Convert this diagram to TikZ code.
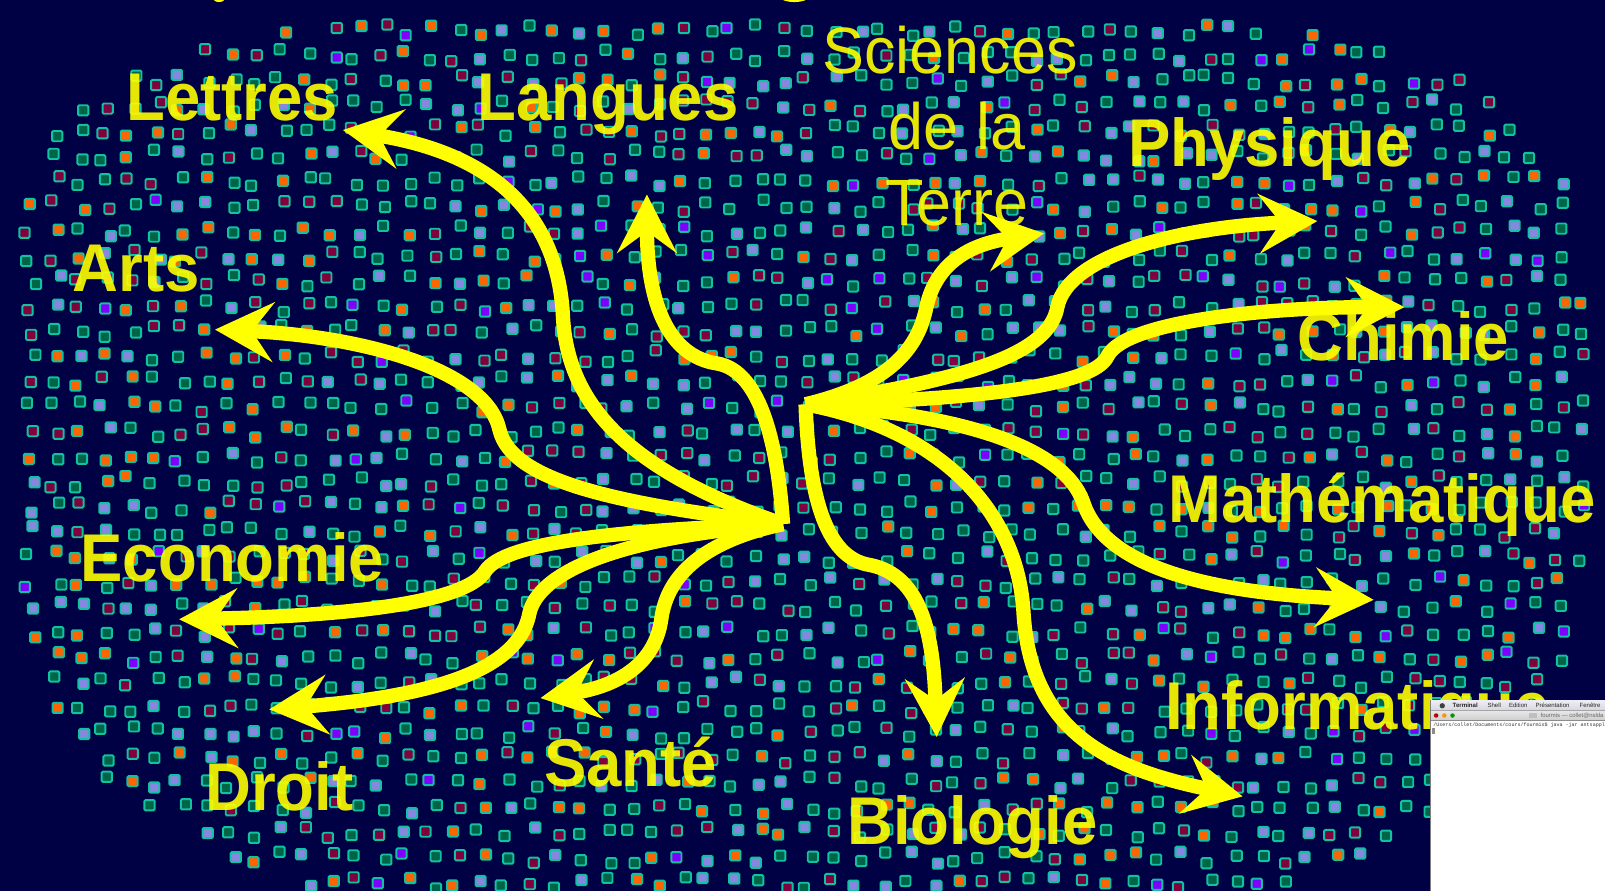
\documentclass[tikz,border=0pt]{standalone}
\usepackage{fontspec}
\setmainfont{Liberation Sans}
\newfontfamily\termmono{Liberation Mono}
\usepackage{graphicx}
\usetikzlibrary{arrows.meta}
\definecolor{bgnavy}{RGB}{0,0,68}
\definecolor{sqb}{RGB}{15,195,160}
\definecolor{sqg}{RGB}{0,100,72}
\definecolor{sqm}{RGB}{128,0,64}
\definecolor{sql}{RGB}{135,135,225}
\definecolor{sqo}{RGB}{255,100,0}
\definecolor{sqp}{RGB}{128,0,255}
\definecolor{yel}{RGB}{255,255,0}
\definecolor{menuA}{RGB}{238,238,244}
\definecolor{menuB}{RGB}{214,214,224}
\definecolor{tbarA}{RGB}{232,232,232}
\definecolor{tbarB}{RGB}{205,205,205}
\begin{document}
\begin{tikzpicture}[x=1pt,y=-1pt,
  sq/.style={draw=sqb, line width=1.9pt, rounded corners=1.2pt},
  lab/.style={text=yel, font=\fontsize{66}{70}\selectfont\bfseries, anchor=base, inner sep=0pt, text opacity=0.9},
  labr/.style={text=yel, font=\fontsize{64}{70}\selectfont, anchor=base, inner sep=0pt, text opacity=0.9},
  arr/.style={draw=yel, line width=14pt, line join=round, -{Stealth[length=57pt,width=58pt,inset=21pt]}},
  menut/.style={anchor=base west, inner sep=0pt, text=black!85, font=\fontsize{5.9}{7}\selectfont},
]
\useasboundingbox (0,0) rectangle (1568,870);
\fill[bgnavy] (0,0) rectangle (1568,870);

% cut-off title descenders at the top edge
\fill[yel] (214,-2) ellipse [x radius=6, y radius=4];
\fill[yel] (776,-3) ellipse [x radius=14, y radius=5];

% cloud of squares
\pgfmathsetseed{7}
\foreach \i in {0,...,64}{
  \foreach \j in {0,...,36}{
    \pgfmathsetmacro\sqx{\i*24.5+6*rand}
    \pgfmathsetmacro\sqy{\j*24.5+6*rand}
    \pgfmathsetmacro\sqdx{abs(\sqx-775)/770+0.0001}
    \pgfmathsetmacro\sqdy{abs(\sqy-440)+0.01}
    \pgfmathsetmacro\sqv{\sqy<440 ? \sqdx^4.5+(\sqdy/428)^4.5 : \sqdx^3+(\sqdy/460)^3}
    \pgfmathtruncatemacro\sqc{random(1,100)}
    \ifdim\sqv pt<1pt
      \ifnum\sqc<42 \def\sqcol{sqg}\else\ifnum\sqc<62 \def\sqcol{sqm}\else\ifnum\sqc<80 \def\sqcol{sql}\else\ifnum\sqc<96 \def\sqcol{sqo}\else\def\sqcol{sqp}\fi\fi\fi\fi
      \draw[sq, fill=\sqcol] (\sqx,\sqy) rectangle +(10,10);
    \fi
  }
}

% labels
\node[lab] (lettres) at (227,118) {\scalebox{0.94}[1]{Lettres}};
\node[lab] (langues) at (594,118) {\scalebox{0.94}[1]{Langues}};
\node[lab] (arts) at (133,285) {\scalebox{0.94}[1]{Arts}};
\node[lab] (physique) at (1240,163) {\scalebox{0.94}[1]{Physique}};
\node[lab] (chimie) at (1371,352) {\scalebox{0.94}[1]{Chimie}};
\node[lab] (maths) at (1350,510) {\scalebox{0.94}[1]{Mathématique}};
\node[lab] (economie) at (227,568) {\scalebox{0.94}[1]{Economie}};
\node[lab, anchor=base west] (info) at (1138,713) {\scalebox{0.94}[1]{Informatique}};
\node[lab] (droit) at (273,792) {\scalebox{0.94}[1]{Droit}};
\node[lab] (sante) at (616,768) {\scalebox{0.94}[1]{Santé}};
\node[lab] (bio) at (950,825) {\scalebox{0.94}[1]{Biologie}};
\node[labr] (sci1) at (928,72) {\scalebox{0.96}[1]{Sciences}};
\node[labr] (sci2) at (935,146) {\scalebox{0.96}[1]{de la}};
\node[labr] (sci3) at (935,220) {\scalebox{0.96}[1]{Terre}};

% hubs and tips
\coordinate (hubL) at (765,512);
\coordinate (hubR) at (787,395);
\coordinate (tLet) at (335,127);
\coordinate (tArts) at (210,322);
\coordinate (tLang) at (632,190);
\coordinate (tEco) at (175,605);
\coordinate (tDroit) at (263,693);
\coordinate (tSante) at (528,682);
\coordinate (tSci) at (1020,228);
\coordinate (tPhy) at (1287,216);
\coordinate (tChi) at (1372,300);
\coordinate (tMath) at (1342,586);
\coordinate (tInfo) at (1214,778);
\coordinate (tBio) at (915,720);

\draw[arr] (hubL) .. controls (620,462) and (555,400) .. (550,310) .. controls (545,200) and (470,148) .. (tLet);
\draw[arr] (hubL) .. controls (600,492) and (500,470) .. (488,420) .. controls (475,360) and (350,328) .. (tArts);
\draw[arr] (hubL) .. controls (760,440) and (745,362) .. (700,355) .. controls (655,348) and (632,300) .. (tLang);
\draw[arr] (hubL) .. controls (600,518) and (492,530) .. (474,558) .. controls (455,590) and (330,602) .. (tEco);
\draw[arr] (hubL) .. controls (600,525) and (525,560) .. (517,600) .. controls (505,662) and (400,682) .. (tDroit);
\draw[arr] (hubL) .. controls (690,528) and (652,560) .. (646,605) .. controls (640,648) and (605,670) .. (tSante);

\draw[arr] (hubR) .. controls (870,375) and (897,340) .. (905,300) .. controls (915,255) and (950,238) .. (tSci);
\draw[arr] (hubR) .. controls (950,370) and (1025,345) .. (1033,300) .. controls (1043,250) and (1150,222) .. (tPhy);
\draw[arr] (hubR) .. controls (950,390) and (1068,378) .. (1082,348) .. controls (1100,312) and (1250,300) .. (tChi);
\draw[arr] (hubR) .. controls (950,405) and (1040,440) .. (1058,490) .. controls (1080,560) and (1200,580) .. (tMath);
\draw[arr] (hubR) .. controls (920,420) and (995,500) .. (1000,600) .. controls (1008,720) and (1090,752) .. (tInfo);
\draw[arr] (hubR) .. controls (790,480) and (805,545) .. (850,552) .. controls (900,562) and (912,620) .. (tBio);

% terminal window screenshot
\begin{scope}
  \clip (1397,684) rectangle (1568,870);
  \fill[white] (1397,684) rectangle (1568,870);
  \shade[top color=menuA, bottom color=menuB] (1397,684) rectangle (1568,694);
  \shade[top color=tbarA, bottom color=tbarB] (1397,694) rectangle (1568,704);
  \draw[black!35, line width=0.5pt] (1397,694) -- (1568,694);
  \draw[black!45, line width=0.5pt] (1397,704) -- (1568,704);
  \fill[black!75] (1409,689.5) circle [radius=2.6];
  \node[menut, font=\fontsize{6}{7}\selectfont\bfseries] (mterm) at (1419,691.5) {Terminal};
  \node[menut] (mshell) at (1453,691.5) {Shell};
  \node[menut] (medit) at (1474,691.5) {Edition};
  \node[menut] (mpres) at (1500,691.5) {Présentation};
  \node[menut] (mfen) at (1543,691.5) {Fenêtre};
  \fill[red!75!black] (1403,699) circle [radius=2.2];
  \fill[orange!85!yellow] (1411,699) circle [radius=2.2];
  \fill[green!60!black] (1419,699) circle [radius=2.2];
  \fill[black!25] (1494,696.5) rectangle (1502,701.5);
  \node[menut, text=black!60, font=\fontsize{5.8}{7}\selectfont] (wtitle) at (1505,701.3) {fourmis — collet@nslda};
  \node[menut, text=black!80, font=\termmono\fontsize{4.9}{6}\selectfont] (cmd) at (1400,709.5) {/Users/collet/Documents/cours/fourmis\$ java -jar antsapplet.jar};
  \fill[black!45] (1399,711) rectangle (1402,717);
  \draw[black!50, line width=0.8pt] (1397.4,684) -- (1397.4,870);
\end{scope}
\end{tikzpicture}
\end{document}
